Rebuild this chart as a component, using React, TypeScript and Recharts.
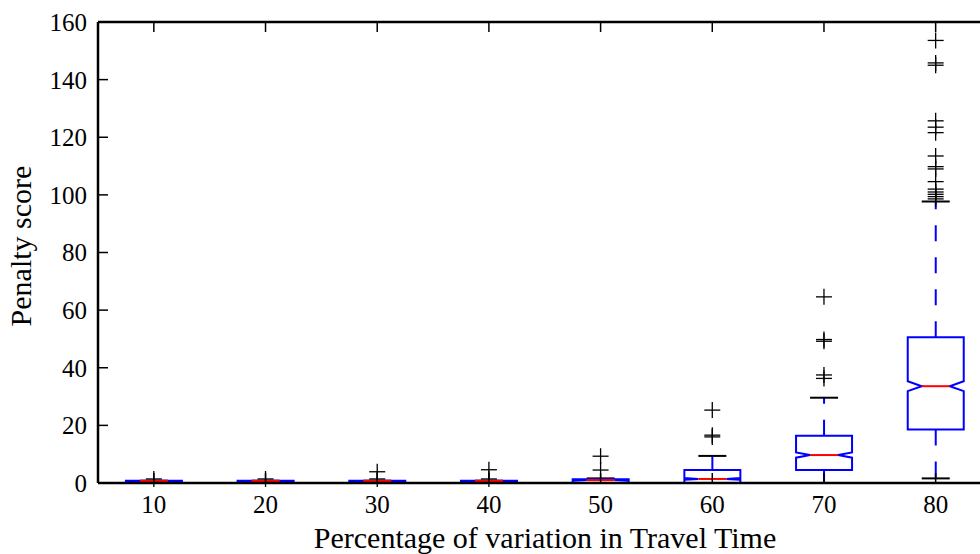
import React from 'react';
import { ComposedChart, Bar, Scatter, XAxis, YAxis, ReferenceLine } from 'recharts';

// percentage of variation in travel time
const categories = ['10', '20', '30', '40', '50', '60', '70', '80'];
// box plot statistics per category (penalty score)
const whiskerLow = [0, 0, 0, 0, 0, 0, 0, 1.6];
const q1 = [0, 0, 0, 0, 0, 0, 4.5, 18.6];
const medians = [0.7, 0.7, 0.7, 0.7, 1.0, 1.4, 9.7, 33.6];
const q3 = [0.8, 0.8, 0.8, 0.8, 1.3, 4.5, 16.4, 50.6];
const whiskerHigh = [0.8, 0.8, 0.8, 0.8, 1.6, 9.4, 29.6, 97.7];
const notchLow = [0.7, 0.7, 0.7, 0.7, 0.8, 1.1, 8.8, 31.9];
const notchHigh = [0.7, 0.7, 0.7, 0.7, 1.2, 1.7, 10.6, 35.3];
const fliers = [
  [1.4],
  [1.4],
  [1.4, 3.9],
  [1.4, 4.6],
  [4.5, 9.3],
  [16.0, 16.6, 25.3],
  [36.3, 37.5, 49.2, 49.8, 64.6],
  [98.6, 99.4, 100.2, 101.0, 102.0, 104.6, 109.0, 109.8, 113.5, 121.6, 123.5, 125.7, 145.0, 145.8, 153.6],
];
const yTicks = [0, 20, 40, 60, 80, 100, 120, 140, 160];

const rows = categories.map((cat, i) => ({
  cat,
  range: [whiskerLow[i], whiskerHigh[i]],
  q1: q1[i],
  median: medians[i],
  q3: q3[i],
  notchLow: notchLow[i],
  notchHigh: notchHigh[i],
}));

const flierRows = categories.flatMap((cat, i) => fliers[i].map(v => ({ cat, v })));

const FONT = "'Liberation Serif', serif";
const BLUE = '#0000ff';
const CHART_W = 1000;
const CHART_H = 570;
const MARGIN = { top: 22, right: 8.5, bottom: 27, left: 0 };
const X_AXIS_H = 60;
const PLOT_H = CHART_H - MARGIN.top - MARGIN.bottom - X_AXIS_H;
const TICK_LEN = 10;

const BoxShape = (props: any) => {
  const { x, y, width, height, payload } = props;
  const lo = payload.range[0];
  const hi = payload.range[1];
  // position inside the whisker range, using the bar's own scaled extent
  const toPx = (v: number) => (hi === lo ? y + height : y + (height * (hi - v)) / (hi - lo));
  const cx = x + width / 2;
  const l = x;
  const r = x + width;
  const il = cx - width / 4;
  const ir = cx + width / 4;
  const yq1 = toPx(payload.q1);
  const yq3 = toPx(payload.q3);
  const ym = toPx(payload.median);
  const ynl = toPx(payload.notchLow);
  const ynh = toPx(payload.notchHigh);
  const yLo = y + height;
  const yHi = y;
  const pts = [
    [l, yq1], [r, yq1], [r, ynl], [ir, ym], [r, ynh], [r, yq3],
    [l, yq3], [l, ynh], [il, ym], [l, ynl],
  ].map(p => p.join(',')).join(' ');
  return (
    <g>
      <line x1={cx} x2={cx} y1={yq3} y2={yHi} stroke={BLUE} strokeWidth={2} strokeDasharray="16 16" />
      <line x1={cx} x2={cx} y1={yq1} y2={yLo} stroke={BLUE} strokeWidth={2} strokeDasharray="16 16" />
      <line x1={il} x2={ir} y1={yHi} y2={yHi} stroke="#000" strokeWidth={2} />
      <line x1={il} x2={ir} y1={yLo} y2={yLo} stroke="#000" strokeWidth={2} />
      <polygon points={pts} fill="none" stroke={BLUE} strokeWidth={2} />
      <line x1={il} x2={ir} y1={ym} y2={ym} stroke="#ff0000" strokeWidth={2} />
    </g>
  );
};

const Cross = (props: any) => {
  const { cx, cy } = props;
  return (
    <g>
      <line x1={cx - 8} x2={cx + 8} y1={cy} y2={cy} stroke="#000" strokeWidth={1.3} />
      <line x1={cx} x2={cx} y1={cy - 8} y2={cy + 8} stroke="#000" strokeWidth={1.3} />
    </g>
  );
};

// ticks point inward, as in the original figure
const YTick = (props: any) => {
  const { x, y, payload } = props;
  return (
    <g>
      <line x1={x + 11} x2={x + 11 + TICK_LEN} y1={y} y2={y} stroke="#000" strokeWidth={1.5} />
      <text x={x} y={y} dy="0.355em" textAnchor="end" fill="#000" fontSize={25} fontFamily={FONT}>
        {payload.value}
      </text>
    </g>
  );
};

// bottom tick + label, plus the matching tick on the top spine
const XTick = (props: any) => {
  const { x, y, payload } = props;
  const top = y - PLOT_H;
  return (
    <g>
      <line x1={x} x2={x} y1={y} y2={y - TICK_LEN} stroke="#000" strokeWidth={1.5} />
      <line x1={x} x2={x} y1={top} y2={top + TICK_LEN} stroke="#000" strokeWidth={1.5} />
      <text x={x} y={y + 12} dy="0.71em" textAnchor="middle" fill="#000" fontSize={25} fontFamily={FONT}>
        {payload.value}
      </text>
    </g>
  );
};

const spine = { stroke: '#000', strokeWidth: 2.5 };

export default function App() {
  return (
    <div style={{ position: 'absolute', left: 0, top: 0, width: 980, height: 554, overflow: 'hidden', background: '#fff' }}>
      <ComposedChart
        width={CHART_W}
        height={CHART_H}
        data={rows}
        margin={MARGIN}
        barCategoryGap="25%"
      >
        <XAxis
          dataKey="cat"
          allowDuplicatedCategory={false}
          axisLine={spine}
          tickLine={false}
          tickSize={0}
          tickMargin={0}
          tick={<XTick />}
          height={X_AXIS_H}
        />
        <YAxis
          domain={[0, 160]}
          ticks={yTicks}
          axisLine={spine}
          tickLine={false}
          tickSize={0}
          tickMargin={11}
          tick={<YTick />}
          width={98}
          interval={0}
        />
        <ReferenceLine y={160} stroke="#000" strokeWidth={2.5} />
        <Bar dataKey="range" shape={<BoxShape />} isAnimationActive={false} />
        <Scatter data={flierRows} dataKey="v" shape={<Cross />} isAnimationActive={false} />
      </ComposedChart>
      <div
        style={{
          position: 'absolute',
          left: 545,
          top: 538,
          transform: 'translate(-50%, -50%)',
          fontFamily: FONT,
          fontSize: 30,
          whiteSpace: 'nowrap',
          color: '#000',
        }}
      >
        Percentage of variation in Travel Time
      </div>
      <div
        style={{
          position: 'absolute',
          left: 21,
          top: 246,
          transform: 'translate(-50%, -50%) rotate(-90deg)',
          fontFamily: FONT,
          fontSize: 30,
          whiteSpace: 'nowrap',
          color: '#000',
        }}
      >
        Penalty score
      </div>
    </div>
  );
}
